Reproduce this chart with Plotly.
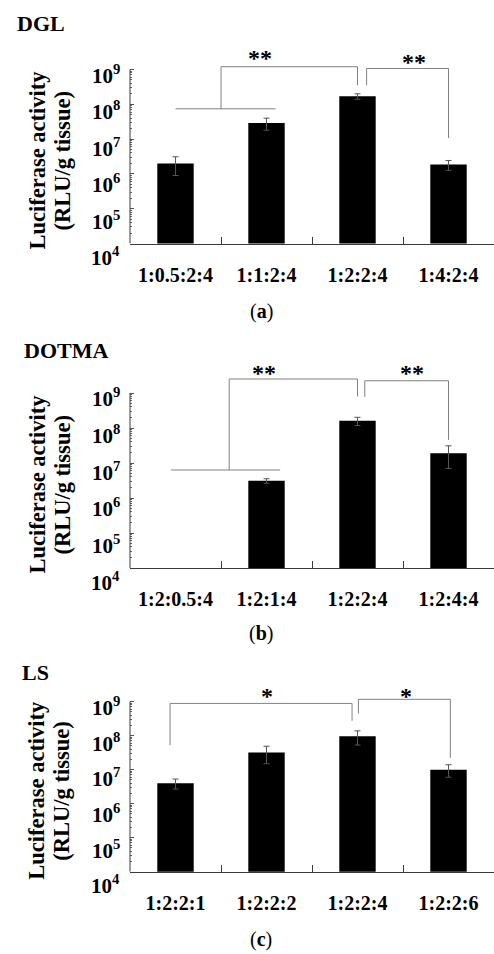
import plotly.graph_objects as go

# ---------------- data ----------------
dgl_cats = ["1:0.5:2:4", "1:1:2:4", "1:2:2:4", "1:4:2:4"]
dgl_vals = [2.0e6, 2.9e7, 1.7e8, 1.85e6]
dgl_err = [1.1e6, 1.1e7, 0.3e8, 0.58e6]

dotma_cats = ["1:2:0.5:4", "1:2:1:4", "1:2:2:4", "1:2:4:4"]
dotma_vals = [None, 3.1e6, 1.6e8, 1.9e7]
dotma_err = [None, 0.45e6, 0.42e8, 1.2e7]

ls_cats = ["1:2:2:1", "1:2:2:2", "1:2:2:4", "1:2:2:6"]
ls_vals = [4.0e6, 3.2e7, 9.6e7, 1.0e7]
ls_err = [1.3e6, 1.7e7, 4.3e7, 4.0e6]

panel_names = ["DGL", "DOTMA", "LS"]
panel_tags = ["a", "b", "c"]
sig_marks = [["**", "**"], ["**", "**"], ["*", "*"]]
decade_labels = ["10<sup>4</sup>", "10<sup>5</sup>", "10<sup>6</sup>",
                 "10<sup>7</sup>", "10<sup>8</sup>", "10<sup>9</sup>"]

# ---------------- layout geometry ----------------
W, H = 494, 954
FONT = "Liberation Serif"
AX = "#3a3a3a"
BR = "#808080"
LEFT = 130
YR = [4, 9.8]
# (pixel of 10^4, pixels per decade)
panels_px = [(243.5, 34.8), (568.0, 35.0), (871.7, 34.0)]

# bracket definitions in (category index, log10 value) units
groups = [
    dict(group=((0.0, 1.1), 7.87),
         b1=[(0.5, 7.87), (0.5, 9.08), (2.0, 9.08), (2.0, 8.55)],
         b2=[(2.1, 8.55), (2.1, 9.03), (3.0, 9.03), (3.0, 7.03)],
         stars=[(0.93, 9.47), (2.62, 9.36)]),
    dict(group=((-0.05, 1.15), 6.8),
         b1=[(0.59, 6.8), (0.59, 9.4), (2.0, 9.4), (2.0, 8.9)],
         b2=[(2.08, 8.89), (2.08, 9.35), (3.0, 9.35), (3.0, 7.66)],
         stars=[(0.97, 9.71), (2.6, 9.71)]),
    dict(group=None,
         b1=[(-0.06, 7.72), (-0.06, 8.95), (1.94, 8.95), (1.94, 8.44)],
         b2=[(2.01, 8.65), (2.01, 9.07), (3.02, 9.07), (3.02, 7.35)],
         stars=[(1.0, 9.32), (2.53, 9.32)]),
]
title_px = [(15, 23), (22, 350), (20, 672)]
tag_px = [312, 633, 939]

cats_all = [dgl_cats, dotma_cats, ls_cats]
vals_all = [dgl_vals, dotma_vals, ls_vals]
errs_all = [dgl_err, dotma_err, ls_err]

fig = go.Figure()
shapes = []
annotations = []

minor_vals = [k * 10 ** d for d in range(4, 9) for k in range(2, 10)]

for i in range(3):
    n = i + 1
    xa = "x" if n == 1 else f"x{n}"
    ya = "y" if n == 1 else f"y{n}"
    xkey = "xaxis" if n == 1 else f"xaxis{n}"
    ykey = "yaxis" if n == 1 else f"yaxis{n}"
    bottom_px, dec = panels_px[i]
    top_px = bottom_px - (YR[1] - YR[0]) * dec

    fig.add_trace(go.Bar(
        x=cats_all[i], y=vals_all[i], xaxis=xa, yaxis=ya,
        marker=dict(color="black", line=dict(width=0)),
        width=0.4,
        error_y=dict(type="data", array=errs_all[i], visible=True,
                     color="#555555", thickness=1, width=3),
        showlegend=False, hoverinfo="skip",
    ))

    fig.update_layout({
        xkey: dict(domain=[LEFT / W, 1], range=[-0.5, 3.5], anchor=ya,
                   showline=True, linecolor=AX, linewidth=1,
                   ticks="inside", tickson="boundaries", ticklen=7,
                   tickcolor=AX, tickwidth=1, showgrid=False,
                   ticklabelstandoff=13,
                   tickfont=dict(family=FONT, size=20, color="black",
                                 weight="bold")),
        ykey: dict(type="log", range=YR, anchor=xa,
                   domain=[1 - bottom_px / H, 1 - top_px / H],
                   showline=False, showgrid=False, zeroline=False,
                   tickvals=[10 ** d for d in range(4, 10)],
                   ticks="inside", ticklen=4, tickcolor="#555555",
                   tickwidth=1, showticklabels=False,
                   minor=dict(tickvals=minor_vals, ticks="inside",
                              ticklen=2, tickcolor="#666666",
                              tickwidth=1, showgrid=False)),
    })

    # y axis line (from 10^4 to 10^9) -- shapes on log axes use data values
    shapes.append(dict(type="line", xref=f"{xa} domain", yref=ya,
                       x0=0, x1=0, y0=1e4, y1=1e9,
                       line=dict(color=AX, width=1)))

    # decade tick labels
    for j, lab in enumerate(decade_labels):
        d = 4 + j
        annotations.append(dict(
            xref=f"{xa} domain", yref=ya, x=0, y=d, xanchor="right",
            yanchor="middle", xshift=-8, yshift=-(5 + (9 - d) * 1.6),
            text=f"<b>{lab}</b>", showarrow=False,
            font=dict(family=FONT, size=21, color="black")))

    # y axis title (two lines)
    mid_paper = 1 - (bottom_px - 2.5 * dec + 4) / H
    for k, (txt, xp) in enumerate([("Luciferase activity", 37),
                                    ("(RLU/g tissue)", 62)]):
        annotations.append(dict(
            xref="paper", yref="paper", x=xp / W, y=mid_paper,
            xanchor="center", yanchor="middle", textangle=-90,
            text=f"<b>{txt}</b>", showarrow=False,
            font=dict(family=FONT, size=22.5, color="black")))

    # panel title and tag
    tx, ty = title_px[i]
    annotations.append(dict(
        xref="paper", yref="paper", x=tx / W, y=1 - ty / H,
        xanchor="left", yanchor="middle", text=f"<b>{panel_names[i]}</b>",
        showarrow=False, font=dict(family=FONT, size=22, color="black")))
    annotations.append(dict(
        xref="paper", yref="paper", x=(LEFT + 364 * 0.36) / W,
        y=1 - tag_px[i] / H, xanchor="center", yanchor="middle",
        text=f"(<b>{panel_tags[i]}</b>)", showarrow=False,
        font=dict(family=FONT, size=20, color="black")))

    # significance brackets
    g = groups[i]
    if g["group"] is not None:
        (gx0, gx1), gy = g["group"]
        shapes.append(dict(type="line", xref=xa, yref=ya, x0=gx0, x1=gx1,
                           y0=10 ** gy, y1=10 ** gy,
                           line=dict(color=BR, width=1)))
    for key in ("b1", "b2"):
        pts = g[key]
        for a, b in zip(pts[:-1], pts[1:]):
            shapes.append(dict(type="line", xref=xa, yref=ya,
                               x0=a[0], y0=10 ** a[1], x1=b[0], y1=10 ** b[1],
                               line=dict(color=BR, width=1)))
    for (sx, sy), mark in zip(g["stars"], sig_marks[i]):
        annotations.append(dict(
            xref=xa, yref=ya, x=sx, y=sy, xanchor="center",
            yanchor="middle", yshift=-5, text=f"<b>{mark}</b>",
            showarrow=False,
            font=dict(family=FONT, size=24, color="black")))

fig.update_layout(
    width=W, height=H,
    margin=dict(l=0, r=0, t=0, b=0),
    paper_bgcolor="white", plot_bgcolor="white",
    bargap=0.6, hovermode=False,
    shapes=shapes, annotations=annotations,
    font=dict(family=FONT, color="black"),
)

fig.write_html(
    "out.html",
    config={"displayModeBar": False, "staticPlot": True},
    post_script="document.body.style.margin='0';"
                "document.body.style.overflow='hidden';",
)
